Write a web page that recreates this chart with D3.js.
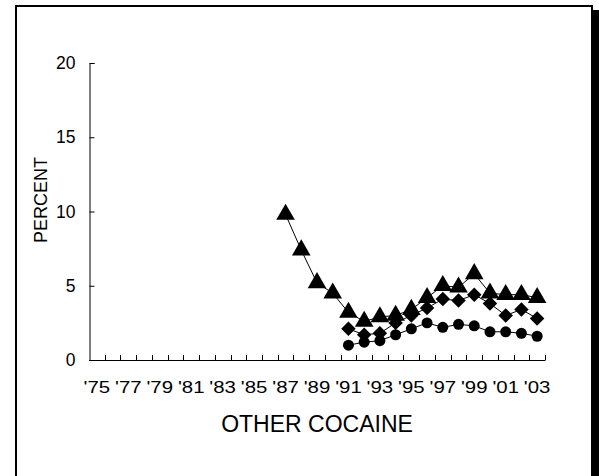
<!DOCTYPE html>
<html><head><meta charset="utf-8">
<script src="https://cdn.jsdelivr.net/npm/d3@7/dist/d3.min.js"></script>
<style>
body{margin:0;background:#fff}
text{font-family:"Liberation Sans",Arial,sans-serif;fill:#000}
</style>
</head><body>
<svg id="chart" width="599" height="476"></svg>
<script>
// ---- data ----
const years = [1975,1976,1977,1978,1979,1980,1981,1982,1983,1984,1985,1986,1987,1988,1989,1990,1991,1992,1993,1994,1995,1996,1997,1998,1999,2000,2001,2002,2003];
const yearLabels = {1975:"'75",1977:"'77",1979:"'79",1981:"'81",1983:"'83",1985:"'85",1987:"'87",1989:"'89",1991:"'91",1993:"'93",1995:"'95",1997:"'97",1999:"'99",2001:"'01",2003:"'03"};
const yTicks = [0,5,10,15,20];

const grade12Years = [1987,1988,1989,1990,1991,1992,1993,1994,1995,1996,1997,1998,1999,2000,2001,2002,2003];
const grade12 = [9.8,7.4,5.2,4.5,3.2,2.6,2.9,3.0,3.4,4.2,5.0,4.9,5.8,4.5,4.4,4.4,4.2];

const grade10Years = [1991,1992,1993,1994,1995,1996,1997,1998,1999,2000,2001,2002,2003];
const grade10 = [2.1,1.7,1.8,2.5,3.0,3.5,4.1,4.0,4.4,3.8,3.0,3.4,2.8];

const grade8Years = [1991,1992,1993,1994,1995,1996,1997,1998,1999,2000,2001,2002,2003];
const grade8 = [1.0,1.2,1.3,1.7,2.1,2.5,2.2,2.4,2.3,1.9,1.9,1.8,1.6];

const title = "OTHER COCAINE";
const yTitle = "PERCENT";

// ---- layout ----
(function(){
const svg = d3.select("#chart");
const mLeft = 89, mRight = 545, mTop = 63, mBottom = 360;

// frame with shadow
svg.append("rect").attr("x",593).attr("y",10).attr("width",8).attr("height",480).attr("fill","#000");
svg.append("rect").attr("x",16).attr("y",6).attr("width",576).attr("height",480)
  .attr("fill","#fff").attr("stroke","#000").attr("stroke-width",2);

const x = d3.scaleBand().domain(years).range([mLeft,mRight]).padding(0);
const y = d3.scaleLinear().domain([0,20]).range([mBottom,mTop]);
const cx = yr => x(yr) + x.bandwidth()/2;

// x axis: baseline + tick marks at band boundaries pointing up
const g = svg.append("g");
g.append("line").attr("x1",mLeft).attr("x2",mRight).attr("y1",mBottom+0.5).attr("y2",mBottom+0.5)
  .attr("stroke","#000").attr("stroke-width",1);
years.forEach(yr=>{
  const bx = Math.round(x(yr)+x.bandwidth())+0.5;
  g.append("line").attr("x1",bx).attr("x2",bx).attr("y1",mBottom+0.5).attr("y2",mBottom-5)
    .attr("stroke","#000").attr("stroke-width",1);
});
years.forEach(yr=>{
  if(yearLabels[yr]) g.append("text")
    .attr("transform",`translate(${cx(yr)},393) scale(1.2,1)`)
    .attr("text-anchor","middle").attr("font-size",17).text(yearLabels[yr]);
});

// y axis
const yAxis = d3.axisLeft(y).tickValues(yTicks).tickSize(-5).tickPadding(14).tickFormat(d3.format("d"));
const ga = svg.append("g").attr("transform",`translate(${mLeft+0.5},0)`).call(yAxis);
ga.select(".domain").attr("stroke","#000");
ga.selectAll(".tick line").attr("stroke","#000");
ga.selectAll(".tick text").attr("font-size",17.5).attr("font-family","Liberation Sans, Arial, sans-serif").attr("fill","#000");

// titles
svg.append("text").attr("x",317).attr("y",432).attr("text-anchor","middle").attr("font-size",23).text(title);
svg.append("text").attr("transform","translate(47,200) rotate(-90)").attr("text-anchor","middle")
  .attr("font-size",18).text(yTitle);

// series
const line = d3.line().x(d=>cx(d[0])).y(d=>y(d[1]));
function series(yrs, vals, shape, size, rot){
  const pts = yrs.map((yr,i)=>[yr,vals[i]]);
  svg.append("path").attr("d",line(pts)).attr("fill","none").attr("stroke","#000").attr("stroke-width",1);
  const sym = d3.symbol().type(shape).size(size);
  svg.selectAll(null).data(pts).enter().append("path")
    .attr("d",sym).attr("transform",d=>`translate(${cx(d[0])},${y(d[1])}) rotate(${rot||0})`).attr("fill","#000");
}
series(grade8Years, grade8, d3.symbolCircle, 95);
series(grade10Years, grade10, d3.symbolSquare, 105, 45);
series(grade12Years, grade12, d3.symbolTriangle, 150);
})();
</script>
</body></html>
